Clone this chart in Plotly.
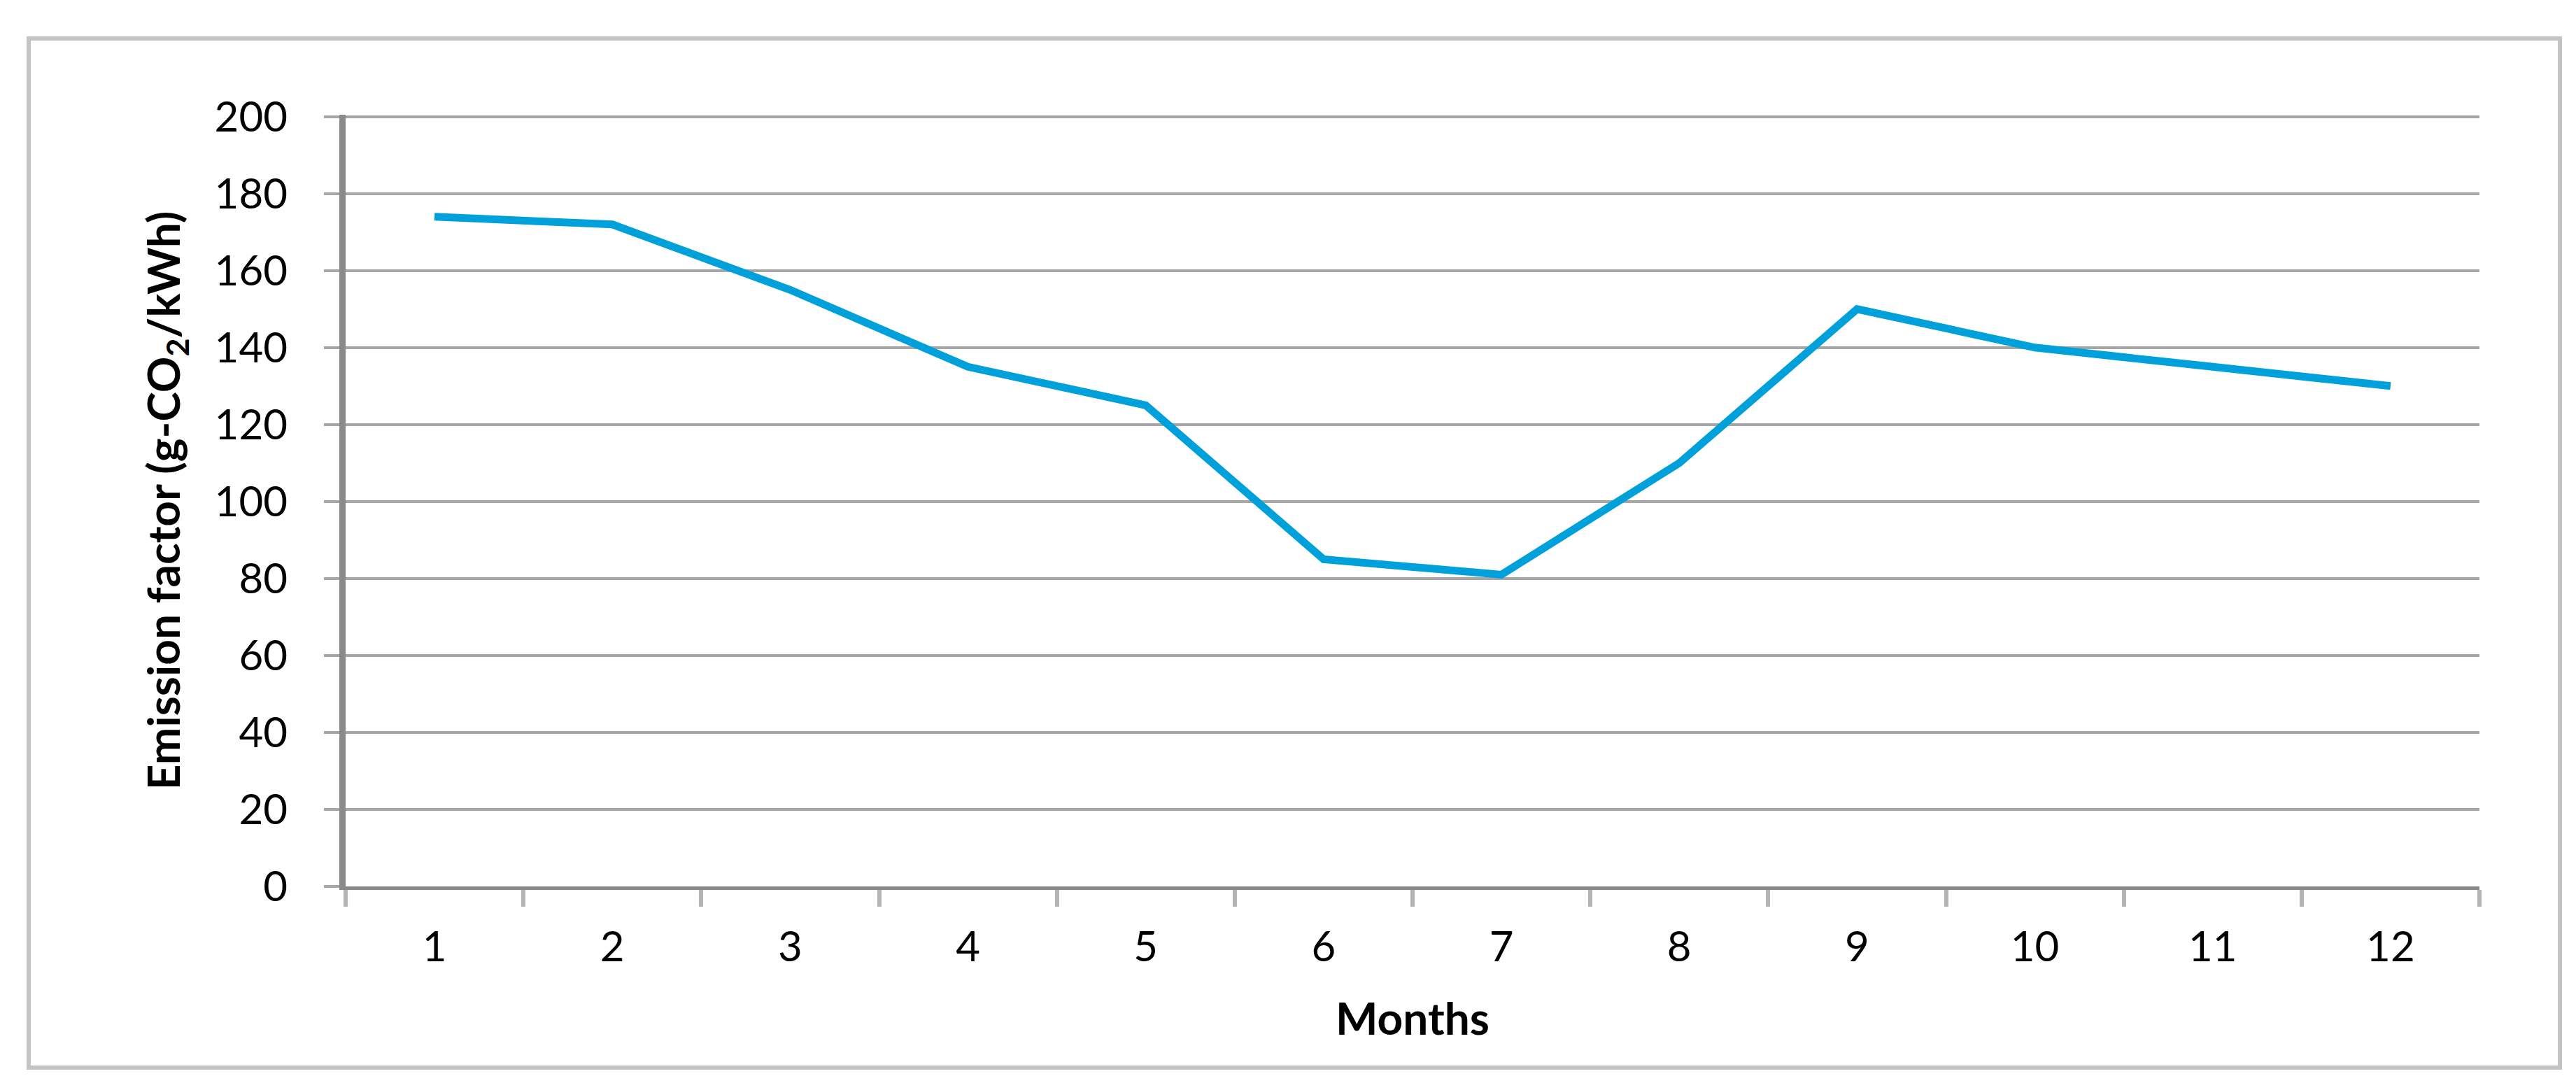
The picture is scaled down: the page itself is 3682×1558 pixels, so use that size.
import plotly.graph_objects as go

months = ["1", "2", "3", "4", "5", "6", "7", "8", "9", "10", "11", "12"]
emission = [174, 172, 155, 135, 125, 85, 81, 110, 150, 140, 135, 130]
y_ticks = [0, 20, 40, 60, 80, 100, 120, 140, 160, 180, 200]

W, H = 3682, 1558
# plot area in pixels
L, R, T, B = 486, 3536, 156, 1259

fig = go.Figure()
fig.add_trace(go.Scatter(x=months, y=emission, mode="lines",
                         line=dict(color="#00A0DA", width=11), showlegend=False))

# outer frame around the whole chart
pw, ph = R - L, B - T
fig.add_shape(type="rect", xref="paper", yref="paper",
              x0=(33 - L) / pw, x1=(3651 - L) / pw,
              y0=(B - 1518) / ph, y1=(B - 47) / ph,
              line=dict(color="#c4c4c4", width=6), layer="below")

fig.update_layout(
    width=W, height=H,
    margin=dict(l=L, r=W - R, t=T, b=H - B),
    plot_bgcolor="white", paper_bgcolor="white",
    font=dict(family="Lato, Open Sans, sans-serif", size=60, color="black"),
)
fig.update_xaxes(
    type="category", tickson="boundaries", range=[-0.5, 11.5],
    showline=True, linecolor="#8a8a8a", linewidth=5,
    ticks="outside", ticklen=24, tickwidth=6, tickcolor="#b4b4b4",
    ticklabelstandoff=30,
    showgrid=False,
    title=dict(text="<b>Months</b>", font=dict(size=64), standoff=50),
)
fig.update_yaxes(
    range=[0, 200.5], tickvals=y_ticks,
    showline=True, linecolor="#8a8a8a", linewidth=9,
    ticks="outside", ticklen=22, tickwidth=4, tickcolor="#a6a6a6",
    ticklabelstandoff=40,
    showgrid=True, gridcolor="#a6a6a6", gridwidth=4, zeroline=False,
    title=dict(text="<b>Emission factor (g-CO<sub>2</sub>/kWh)</b>",
               font=dict(size=64), standoff=32),
)

fig.write_html("out.html")
